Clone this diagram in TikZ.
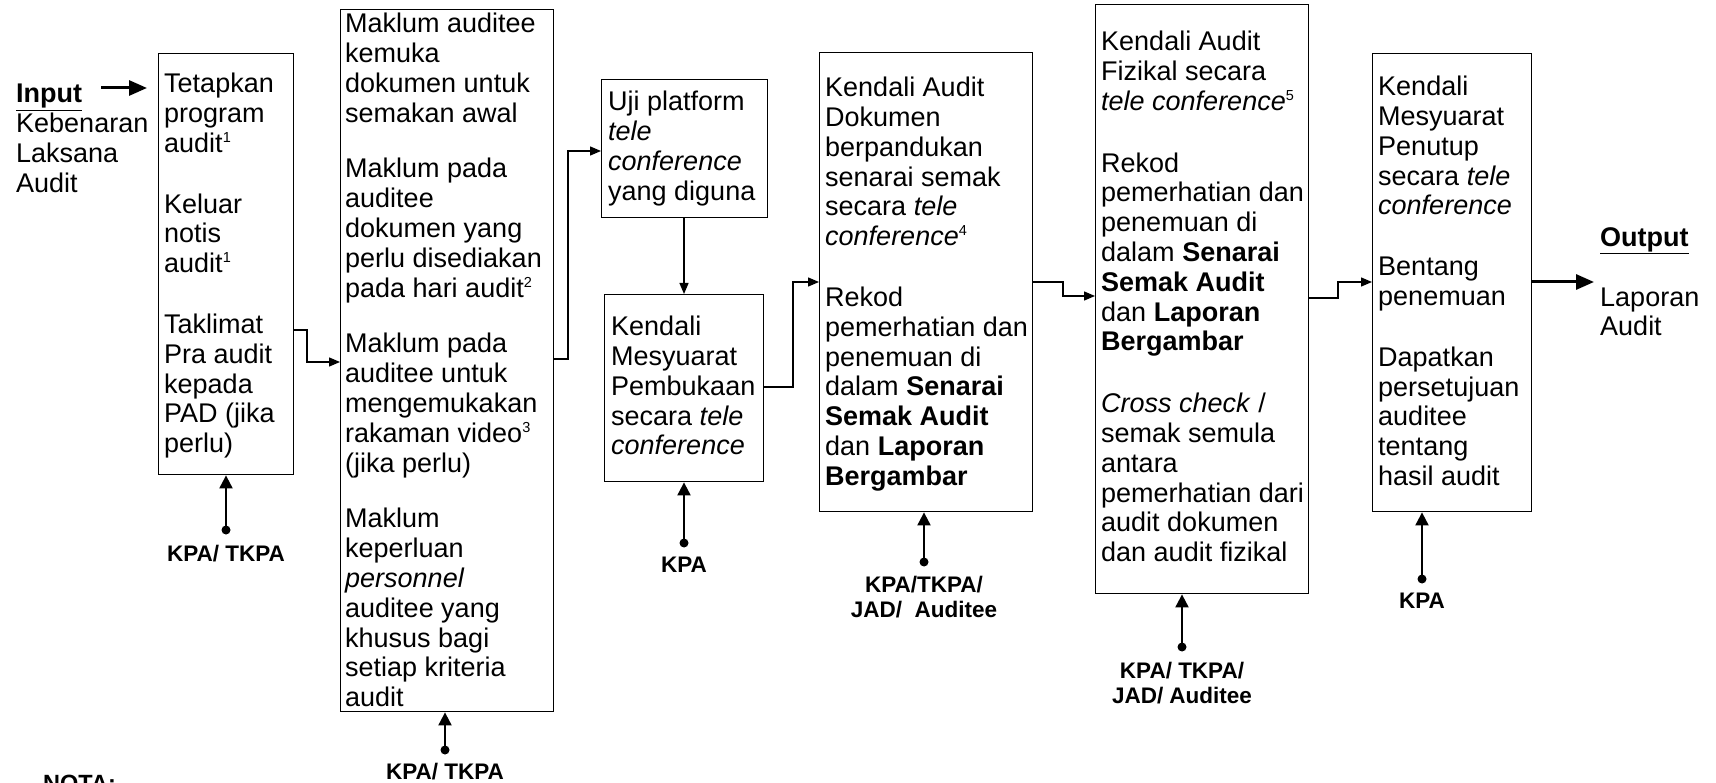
\documentclass[tikz,border=0pt]{standalone}
\usepackage{fontspec}
\setmainfont{Liberation Sans}
\usetikzlibrary{arrows.meta}
\newcommand\sups[1]{\raisebox{10pt}{\fontsize{14.5}{14.5}\selectfont #1}}
\begin{document}
\begin{tikzpicture}[x=1pt,y=-1pt,
  box/.style={draw, line width=1.4pt, inner sep=0pt, anchor=north west},
  txt/.style={inner sep=0pt, anchor=north west, align=left, font=\fontsize{27}{29.8}\selectfont},
  lab/.style={inner sep=0pt, anchor=north, align=center, font=\fontsize{22.5}{25}\selectfont\bfseries},
  conn/.style={line width=1.3pt, -{Triangle[length=11pt,width=9pt]}},
  uparr/.style={line width=2pt, -{Triangle[length=13pt,width=13pt]}},
  bigarr/.style={line width=3pt, -{Triangle[length=18pt,width=15pt]}},
  dot/.style={circle, fill, inner sep=0pt, minimum size=9pt}]
\clip (0,0) rectangle (1716,783);
\fill[white] (0,0) rectangle (1716,783);

% boxes
\node[box, minimum width=135, minimum height=421] (b1) at (158,53) {};
\node[box, minimum width=213, minimum height=702] (b2) at (340,9) {};
\node[box, minimum width=166, minimum height=138] (b3) at (601,79) {};
\node[box, minimum width=159, minimum height=187] (b4) at (604,294) {};
\node[box, minimum width=213, minimum height=459] (b5) at (819,52) {};
\node[box, minimum width=213, minimum height=589] (b6) at (1095,4) {};
\node[box, minimum width=159, minimum height=458] (b7) at (1372,53) {};

% texts
\node[txt] (tin) at (16,84) {\underline{\textbf{Input}}\\Kebenaran\\Laksana\\Audit};
\node[txt] (t1) at (164,73) {Tetapkan\\program\\audit\sups{1}\\[31pt]Keluar\\notis\\audit\sups{1}\\[31pt]Taklimat\\Pra audit\\kepada\\PAD (jika\\perlu)};
\node[txt] (t2) at (345,13) {Maklum auditee\\kemuka\\dokumen untuk\\semakan awal\\[26pt]Maklum pada\\auditee\\dokumen yang\\perlu disediakan\\pada hari audit\sups{2}\\[26pt]Maklum pada\\auditee untuk\\mengemukakan\\rakaman video\sups{3}\\(jika perlu)\\[26pt]Maklum\\keperluan\\\textit{personnel}\\auditee yang\\khusus bagi\\setiap kriteria\\audit};
\node[txt] (t3) at (608,91) {Uji platform\\\textit{tele}\\\textit{conference}\\yang diguna};
\node[txt] (t4) at (611,316) {Kendali\\Mesyuarat\\Pembukaan\\secara \textit{tele}\\\textit{conference}};
\node[txt] (t5) at (825,77) {Kendali Audit\\Dokumen\\berpandukan\\senarai semak\\secara \textit{tele}\\\textit{conference}\sups{4}\\[31pt]Rekod\\pemerhatian dan\\penemuan di\\dalam \textbf{Senarai}\\\textbf{Semak Audit}\\dan \textbf{Laporan}\\\textbf{Bergambar}};
\node[txt] (t6) at (1101,31) {Kendali Audit\\Fizikal secara\\\textit{tele conference}\sups{5}\\[32pt]Rekod\\pemerhatian dan\\penemuan di\\dalam \textbf{Senarai}\\\textbf{Semak Audit}\\dan \textbf{Laporan}\\\textbf{Bergambar}\\[32pt]\textit{Cross check} /\\semak semula\\antara\\pemerhatian dari\\audit dokumen\\dan audit fizikal};
\node[txt] (t7) at (1378,76) {Kendali\\Mesyuarat\\Penutup\\secara \textit{tele}\\\textit{conference}\\[31pt]Bentang\\penemuan\\[31pt]Dapatkan\\persetujuan\\auditee\\tentang\\hasil audit};
\node[txt] (tout) at (1600,227) {\underline{\textbf{Output}}\\[30.2pt]Laporan\\Audit};
\node[inner sep=0pt, anchor=north west, font=\fontsize{23.5}{26}\selectfont\bfseries] (nota) at (43,775) {NOTA:};

% connectors
\coordinate (inS) at (101,88);
\coordinate (inE) at (147,88);
\draw[bigarr] (inS) -- (inE);
\draw[conn] (b1.east |- {(0,330)}) -- (307,330) |- (b2.west |- {(0,362)});
\draw[conn] (b2.east |- {(0,359)}) -- (568,359) |- (b3.west |- {(0,151)});
\draw[conn] (b3.south -| {(684,0)}) -- (b4.north -| {(684,0)});
\draw[conn] (b4.east |- {(0,387)}) -- (793,387) |- (b5.west |- {(0,282)});
\draw[conn] (b5.east |- {(0,282)}) -- (1063,282) |- (b6.west |- {(0,296)});
\draw[conn] (b6.east |- {(0,298)}) -- (1338,298) |- (b7.west |- {(0,282)});
\coordinate (outE) at (1594,282);
\draw[bigarr] (b7.east |- outE) -- (outE);

% responsible parties
\node[dot] (d1) at (226,530) {};
\node[dot] (d2) at (445,750) {};
\node[dot] (d4) at (684,543) {};
\node[dot] (d5) at (924,562) {};
\node[dot] (d6) at (1182,647) {};
\node[dot] (d7) at (1422,579) {};
\draw[uparr] (d1.center) -- (d1 |- b1.south);
\draw[uparr] (d2.center) -- (d2 |- b2.south);
\draw[uparr] (d4.center) -- (d4 |- b4.south);
\draw[uparr] (d5.center) -- (d5 |- b5.south);
\draw[uparr] (d6.center) -- (d6 |- b6.south);
\draw[uparr] (d7.center) -- (d7 |- b7.south);
\node[lab] (l1) at (226,545) {KPA/ TKPA};
\node[lab] (l2) at (445,763) {KPA/ TKPA};
\node[lab] (l4) at (684,557) {KPA};
\node[lab] (l5) at (924,576) {KPA/TKPA/\\JAD/\ \ Auditee};
\node[lab] (l6) at (1182,662) {KPA/ TKPA/\\JAD/ Auditee};
\node[lab] (l7) at (1422,593) {KPA};
\end{tikzpicture}
\end{document}
